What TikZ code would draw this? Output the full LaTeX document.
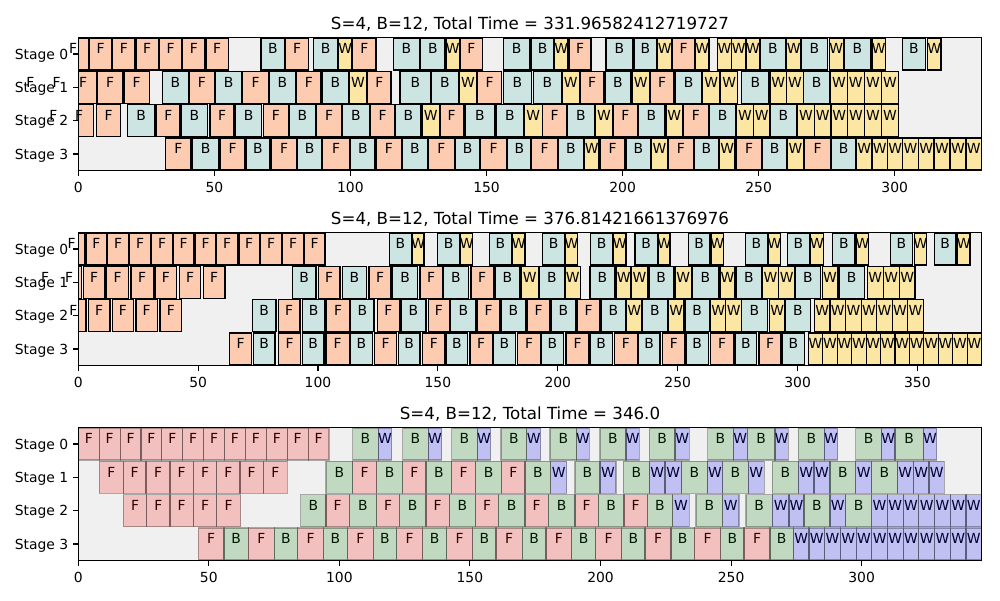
\documentclass[tikz,border=0pt]{standalone}
\usepackage{fontspec}
\setmainfont{DejaVu Sans}
\definecolor{axbg}{HTML}{F0F0F0}
\definecolor{pF}{HTML}{FCCBB0}
\definecolor{pB}{HTML}{CCE5E2}
\definecolor{pW}{HTML}{FBE6A3}
\definecolor{aF}{rgb}{1,0,0}
\definecolor{aB}{rgb}{0,0.5,0}
\definecolor{aW}{rgb}{0,0,1}
% plot 1
\def\rAa{57.7/88.3/F, 89.3/111.7/F, 112.7/135/F, 136/158.3/F, 159.3/181.7/F, 182.7/205/F, 206/228.3/F, 261/285/B, 285.7/308.3/F, 313.3/338/B, 338.7/352/W, 352.7/376/F, 393.3/419.3/B, 420.7/445/B, 446/459.3/W, 460/482.7/F, 503.3/530/B, 531.3/554/B, 554.7/568/W, 569/591/F, 606/632.7/B, 634/656.7/B, 657.7/671.7/W, 672.7/694.3/F, 695.7/709/W, 717.3/731.7/W, 731.7/746/W, 746/760/W, 760/786/B, 786.7/800.7/W, 801.3/827.7/B, 829.3/843.3/W, 844.3/870.7/B, 872/885.7/W, 902.3/925.7/B, 927.7/941/W}
\def\rAb{18/42.6/F, 44.4/69/F, 69.3/96.7/F, 97.3/122.7/F, 124/149.3/F, 162.3/188.3/B, 189.3/214.3/F, 215.7/241.7/B, 242.7/268.3/F, 269.3/295.7/B, 296.7/321/F, 322.3/348.3/B, 349.3/366.7/W, 367.7/391/F, 400/430.7/B, 431.7/458.3/B, 459.3/476.7/W, 477.3/501.7/F, 503.3/531.7/B, 533.3/561.7/B, 562.3/579.3/W, 580/604/F, 605/631/B, 632/649.3/W, 650/674/F, 675.7/701.7/B, 702.7/720/W, 720.7/737.7/W, 741.7/769/B, 770/786.7/W, 786.7/803.3/W, 803.3/830/B, 830.7/847.3/W, 847.3/864.3/W, 864.3/881.7/W, 881.7/898.3/W}
\def\rAc{41.6/65/F, 65.1/93.3/F, 96.7/120.7/F, 127.3/155/B, 156.7/180/F, 181.7/207.3/B, 210/234/F, 235.7/261.7/B, 263.3/288.3/F, 289.3/315.7/B, 316.7/341.7/F, 342.7/369.3/B, 370.7/394.3/F, 395.7/421/B, 422.3/439.3/W, 440/463.3/F, 465/495/B, 496.7/523.3/B, 524.3/542.3/W, 542.7/566.7/F, 567.7/594.3/B, 595.3/612.7/W, 613.3/637.3/F, 638.3/664.3/B, 666/682.3/W, 683.3/708.3/F, 709.3/736/B, 736.7/753.3/W, 753.3/770/W, 770/796.7/B, 797.7/814.3/W, 814.3/831/W, 831/847.7/W, 847.7/864.3/W, 864.3/881.7/W, 881.7/898.3/W}
\def\rAd{165.7/191/F, 192.3/219/B, 220/245/F, 246/270/B, 271.7/296.7/F, 297.7/321.7/B, 322.7/349.3/F, 350.7/375/B, 376/401.7/F, 402.7/427.3/B, 428.3/454.3/F, 455.3/480/B, 480.7/506.7/F, 507.7/531/B, 531.7/557.7/F, 558.7/583.3/B, 584.3/599/W, 600/625/F, 626/650.7/B, 651.7/667.3/W, 668.3/693.3/F, 694.3/718.3/B, 719.3/735/W, 736.7/761.7/F, 762.7/786.7/B, 787.7/803.3/W, 804.3/830.7/F, 831.7/855.7/B, 856.7/872/W, 872/887.7/W, 887.7/902.7/W, 902.7/918.3/W, 918.3/934/W, 934/950/W, 950/966/W, 966/981.7/W}
% plot 2
\def\rBa{58.3/85/F, 86/106.7/F, 107.7/128.3/F, 129.3/150.7/F, 151.7/172.3/F, 173.3/194/F, 195/216/F, 216.7/237.7/F, 239/259.3/F, 260.7/281.7/F, 282.7/303.3/F, 304.3/325/F, 389.3/411.7/B, 412.7/424/W, 437.3/460/B, 460.7/472.7/W, 489.3/511.7/B, 512.7/525/W, 542.3/565/B, 565.7/577.3/W, 590.7/612.7/B, 613.3/626/W, 635/657.3/B, 658.3/670/W, 688.3/710/B, 711/723.3/W, 745.7/767.3/B, 768.3/780.7/W, 787.3/809.3/B, 810.7/823.3/W, 832.7/855/B, 856.7/868.3/W, 890.7/912.3/B, 914.3/926.7/W, 934.3/956/B, 957.7/970/W}
\def\rBb{34.5/55.5/F, 56.3/81.7/F, 83.3/105/F, 106.7/128.3/F, 131/153.3/F, 155/176.7/F, 179.3/200.7/F, 203.3/225/F, 292.3/316/B, 318.3/340/F, 342.3/366.7/B, 369/391/F, 392.7/417.7/B, 420/442.3/F, 443.3/468.3/B, 471/493.3/F, 495/520/B, 521/538.3/W, 539.3/564.3/B, 565/580.7/W, 590/615/B, 616.7/631/W, 631.7/647.3/W, 649/673.3/B, 675/691.7/W, 692.3/718.3/B, 720/735/W, 736/761.7/B, 762.7/778.3/W, 778.3/795/W, 795/820.7/B, 822.3/837.7/W, 839/864.3/B, 867.3/883.3/W, 883.3/899.3/W, 899.3/915/W}
\def\rBc{60.7/86/F, 88.3/110/F, 112.3/133.3/F, 136/157.3/F, 160/181.7/F, 252.3/276/B, 278.3/300/F, 302.3/325/B, 326.7/349.3/F, 350.7/374/B, 377.3/399.3/F, 401/426/B, 428.3/449.3/F, 450.7/476/B, 477.7/499.3/F, 501/526/B, 527.3/550/F, 551/576/B, 577.3/600/F, 601/626/B, 626.7/641.7/W, 642.3/667.3/B, 668.3/684/W, 685/709.3/B, 710.7/725.7/W, 725.7/741.7/W, 741.7/767.3/B, 769.3/785/W, 785/810.7/B, 814.3/830/W, 830/845.7/W, 845.7/861.3/W, 861.3/876.7/W, 876.7/892.3/W, 892.3/907.7/W, 907.7/923.3/W}
\def\rBd{229.3/251.7/F, 253.3/275/B, 278.3/300.7/F, 302.3/324/B, 326/349.3/F, 350.7/372.3/B, 374.3/396.7/F, 398.3/420/B, 422.7/445/F, 446/467.7/B, 470/492.3/F, 493.3/515.7/B, 517.7/540.7/F, 541.7/563.3/B, 566/589/F, 590/612.3/B, 614.3/637.3/F, 638.3/660/B, 662.7/685/F, 686/708.3/B, 710.7/733.3/F, 735/756.7/B, 759/781/F, 782.7/804.3/B, 808.3/822.75/W, 822.75/837.2/W, 837.2/851.65/W, 851.65/866.1/W, 866.1/880.55/W, 880.55/895/W, 895/909.45/W, 909.45/923.9/W, 923.9/938.35/W, 938.35/952.8/W, 952.8/967.25/W, 967.25/981.7/W}
% plot 3
\def\rCa{78.3/99.2/F, 99.2/120.1/F, 120.1/141/F, 141/161.9/F, 161.9/182.7/F, 182.7/203.6/F, 203.6/224.5/F, 224.5/245.4/F, 245.4/266.3/F, 266.3/287.2/F, 287.2/308.1/F, 308.1/329/F, 352.7/378.3/B, 378.3/391.7/W, 402.7/428.3/B, 428.3/441.7/W, 451.7/477.3/B, 477.3/490.7/W, 501/526.7/B, 526.7/540.7/W, 550/576.7/B, 576.7/589.3/W, 600/626/B, 626/639.3/W, 649.3/675/B, 675/689.3/W, 707.7/733.3/B, 733.3/747.3/W, 747.3/775/B, 775/788.3/W, 798.3/824.3/B, 824.3/837.7/W, 855.7/881.7/B, 881.7/895/W, 895/923.3/B, 923.3/936.7/W}
\def\rCb{99.3/123.3/F, 123.3/146/F, 146/170/F, 170/193.3/F, 193.3/216.7/F, 216.7/240/F, 240/263.3/F, 263.3/287.3/F, 326/352.7/B, 352.7/376.7/F, 376.7/402.7/B, 402.7/426/F, 426/451.7/B, 451.7/475.7/F, 475.7/501.7/B, 501.7/525/F, 525/550.7/B, 550.7/566.7/W, 575/600/B, 600/616/W, 623.3/649.3/B, 649.3/665/W, 665/681.7/W, 681.7/707.3/B, 707.3/722.7/W, 722.7/748.3/B, 748.3/764.3/W, 772.3/798.3/B, 798.3/814/W, 814/830/W, 830/855.7/B, 855.7/871.7/W, 871.7/897.3/B, 897.3/913.3/W, 913.3/929/W, 929/944.3/W}
\def\rCc{123.3/146.7/F, 146.7/170/F, 170/193.3/F, 193.3/216.7/F, 216.7/240.7/F, 300.7/326/B, 326/349.3/F, 349.3/376.7/B, 376.7/399.3/F, 399.3/426/B, 426/449.3/F, 449.3/475.7/B, 475.7/498.3/F, 498.3/525/B, 525/548.3/F, 548.3/575/B, 575/598.3/F, 598.3/624/B, 624/647.3/F, 647.3/672.7/B, 672.7/689.3/W, 696/722.7/B, 722.7/739/W, 746/772.3/B, 772.3/789/W, 789/804/W, 804/830/B, 830/845.7/W, 845.7/871.7/B, 871.7/887.41/W, 887.41/903.13/W, 903.13/918.84/W, 918.84/934.56/W, 934.56/950.27/W, 950.27/965.99/W, 965.99/981.7/W}
\def\rCd{198.3/224/F, 224/248.3/B, 248.3/274.3/F, 274.3/297.7/B, 297.7/323.3/F, 323.3/347.3/B, 347.3/373.3/F, 373.3/396.7/B, 396.7/422.7/F, 422.7/446.7/B, 446.7/472.7/F, 472.7/496/B, 496/522.3/F, 522.3/546/B, 546/571.7/F, 571.7/595.7/B, 595.7/621.7/F, 621.7/645/B, 645/671/F, 671/694.3/B, 694.3/720.7/F, 720.7/744/B, 744/770/F, 770/793.3/B, 793.3/809/W, 809/824.7/W, 824.7/840.4/W, 840.4/856.1/W, 856.1/871.8/W, 871.8/887.5/W, 887.5/903.2/W, 903.2/918.9/W, 918.9/934.6/W, 934.6/950.3/W, 950.3/966/W, 966/981.7/W}
\newcommand\ganttbars[3]{\foreach \a/\b/\t in #3 {\path[#2bar, fill=#2\t] (\a,{#1-16}) rectangle (\b,{#1+16});}}
\newcommand\ganttlabs[2]{\foreach \a/\b/\t in #2 {\node[lbl] at ({(\a+\b)/2},#1) {\t};}}
\begin{document}
\begin{tikzpicture}[x=0.72pt,y=-0.72pt,
  pbar/.style={draw=black, line width=0.8pt},
  abar/.style={fill opacity=0.2, draw=black, draw opacity=0.3, line width=0.8pt},
  lbl/.style={anchor=base, inner sep=0pt, font=\fontsize{10}{12}\selectfont},
  ylab/.style={anchor=base east, inner sep=0pt, font=\fontsize{10}{12}\selectfont},
  xlab/.style={anchor=base, inner sep=0pt, font=\fontsize{10}{12}\selectfont},
  ttl/.style={anchor=base, inner sep=0pt, font=\fontsize{12}{14}\selectfont},
  spine/.style={draw=black, line width=0.8pt},
  tickl/.style={draw=black, line width=0.8pt}]
\useasboundingbox (0,0) rectangle (1000,600);
\fill[white] (0,0) rectangle (1000,600);
% ---------- plot 1 ----------
\fill[axbg] (78.3,37.3) rectangle (981.7,170.7);
\begin{scope}
\clip (78.3,37.3) rectangle (981.7,170.7);
\ganttbars{53.97}{p}{\rAa}
\ganttbars{87.3}{p}{\rAb}
\ganttbars{120.63}{p}{\rAc}
\ganttbars{153.97}{p}{\rAd}
\end{scope}
\draw[spine] (78.3,37.3) rectangle (981.7,170.7);
\foreach \y/\s in {53.97/0, 87.3/1, 120.63/2, 153.97/3} {
  \draw[tickl] (73.4,\y) -- (78.3,\y);
  \node[ylab] (p1s\s) at (68.5,\y+5.3) {Stage \s};}
\foreach \v/\x in {0/78.3, 50/214.4, 100/350.4, 150/486.5, 200/622.6, 250/758.6, 300/894.7} {
  \draw[tickl] (\x,170.7) -- (\x,175.6);
  \node[xlab] (p1x\v) at (\x,192.3) {\v};}
\ganttlabs{53.97}{\rAa}
\ganttlabs{87.3}{\rAb}
\ganttlabs{120.63}{\rAc}
\ganttlabs{153.97}{\rAd}
\node[ttl] (t1) at (530,29) {S=4, B=12, Total Time = 331.96582412719727};
% ---------- plot 2 ----------
\fill[axbg] (78.3,232.3) rectangle (981.7,365.7);
\begin{scope}
\clip (78.3,232.3) rectangle (981.7,365.7);
\ganttbars{248.97}{p}{\rBa}
\ganttbars{282.3}{p}{\rBb}
\ganttbars{315.63}{p}{\rBc}
\ganttbars{348.97}{p}{\rBd}
\end{scope}
\draw[spine] (78.3,232.3) rectangle (981.7,365.7);
\foreach \y/\s in {248.97/0, 282.3/1, 315.63/2, 348.97/3} {
  \draw[tickl] (73.4,\y) -- (78.3,\y);
  \node[ylab] (p2s\s) at (68.5,\y+5.3) {Stage \s};}
\foreach \v/\x in {0/78.3, 50/198.2, 100/318.0, 150/437.9, 200/557.8, 250/677.7, 300/797.6, 350/917.4} {
  \draw[tickl] (\x,365.7) -- (\x,370.6);
  \node[xlab] (p2x\v) at (\x,387.3) {\v};}
\ganttlabs{248.97}{\rBa}
\ganttlabs{282.3}{\rBb}
\ganttlabs{315.63}{\rBc}
\ganttlabs{348.97}{\rBd}
\node[ttl] (t2) at (530,224) {S=4, B=12, Total Time = 376.81421661376976};
% ---------- plot 3 ----------
\fill[axbg] (78.3,427.3) rectangle (981.7,560.7);
\ganttlabs{443.97}{\rCa}
\ganttlabs{477.3}{\rCb}
\ganttlabs{510.63}{\rCc}
\ganttlabs{543.97}{\rCd}
\begin{scope}
\clip (78.3,427.3) rectangle (981.7,560.7);
\ganttbars{443.97}{a}{\rCa}
\ganttbars{477.3}{a}{\rCb}
\ganttbars{510.63}{a}{\rCc}
\ganttbars{543.97}{a}{\rCd}
\end{scope}
\draw[spine] (78.3,427.3) rectangle (981.7,560.7);
\foreach \y/\s in {443.97/0, 477.3/1, 510.63/2, 543.97/3} {
  \draw[tickl] (73.4,\y) -- (78.3,\y);
  \node[ylab] (p3s\s) at (68.5,\y+5.3) {Stage \s};}
\foreach \v/\x in {0/78.3, 50/208.8, 100/339.4, 150/469.9, 200/600.5, 250/731.1, 300/861.6} {
  \draw[tickl] (\x,560.7) -- (\x,565.6);
  \node[xlab] (p3x\v) at (\x,582.3) {\v};}
\node[ttl] (t3) at (530,419) {S=4, B=12, Total Time = 346.0};
\end{tikzpicture}
\end{document}
